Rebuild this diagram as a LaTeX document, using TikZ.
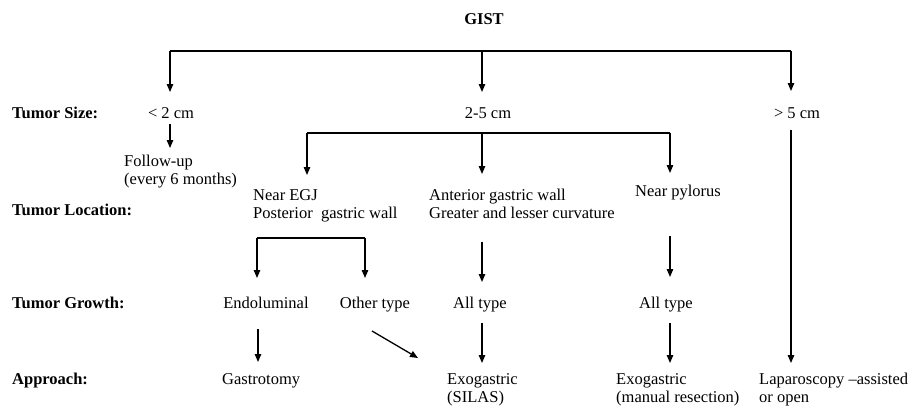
\documentclass[tikz,border=0pt]{standalone}
\usepackage{fontspec}
\setmainfont{Liberation Serif}
\usetikzlibrary{arrows.meta}
\newcommand\fs{\fontsize{16.5}{18}\selectfont}
\tikzset{
  lbl/.style={font=\fs\bfseries, anchor=base west, inner sep=0pt},
  txt/.style={font=\fs, anchor=base, inner sep=0pt},
  txtw/.style={font=\fs, anchor=base west, inner sep=0pt},
  ml/.style={font=\fs, align=left, anchor=north west, inner sep=0pt},
  ln/.style={line width=1.3pt},
  arr/.style={line width=1.3pt, -{Triangle[length=8pt,width=6.5pt]}}
}
\begin{document}
\begin{tikzpicture}[x=1pt,y=-1pt]
\useasboundingbox[fill=white] (0,0) rectangle (922,415);

% title
\node[txt,font=\fs\bfseries] (gist) at (484,24) {GIST};

% row labels
\node[lbl] (lsize) at (12,118) {Tumor Size:};
\node[lbl] (lloc) at (12,215) {Tumor Location:};
\node[lbl] (lgrow) at (12,308) {Tumor Growth:};
\node[lbl] (lapp) at (12,384) {Approach:};

% size
\node[txt] (s1) at (171,118) {< 2 cm};
\node[txt] (s2) at (488,118) {2-5 cm};
\node[txt] (s3) at (797,118) {> 5 cm};
\node[ml] (fu) at (124,155) {Follow-up\\(every 6 months)};

% location
\node[ml] (egj) at (253,189) {Near EGJ\\Posterior\ \ gastric wall};
\node[ml] (ant) at (429,189) {Anterior gastric wall\\Greater and lesser curvature};
\node[txtw] (pyl) at (635,196) {Near pylorus};

% growth
\node[txt] (endo) at (266,308) {Endoluminal};
\node[txt] (other) at (375,308) {Other type};
\node[txt] (all1) at (480,308) {All type};
\node[txt] (all2) at (666,308) {All type};

% approach
\node[txtw] (gastro) at (222,384) {Gastrotomy};
\node[ml] (silas) at (447,373) {Exogastric\\(SILAS)};
\node[ml] (manual) at (616,373) {Exogastric\\(manual resection)};
\node[ml] (lap) at (759,373) {Laparoscopy –assisted\\or open};

% junction coordinates
\coordinate (tl) at (170,51);
\coordinate (tm) at (482,51);
\coordinate (tr) at (791,51);
\coordinate (a1) at (170,92);
\coordinate (a2) at (482,92);
\coordinate (a3) at (791,91);

\coordinate (f0) at (170,124);
\coordinate (f1) at (170,148);

\coordinate (ml) at (307,133);
\coordinate (mm) at (482,133);
\coordinate (mr) at (670,133);
\coordinate (b1) at (307,175);
\coordinate (b2) at (482,174);
\coordinate (b3) at (670,173);

\coordinate (el) at (257,238);
\coordinate (er) at (365,238);
\coordinate (e1) at (257,278);
\coordinate (e2) at (365,278);

\coordinate (g0) at (482,242);
\coordinate (g1) at (482,282);
\coordinate (h0) at (670,236);
\coordinate (h1) at (670,277);

\coordinate (p0) at (258,329);
\coordinate (p1) at (258,362);
\coordinate (q0) at (372,331);
\coordinate (q1) at (418,358);
\coordinate (r0) at (482,323);
\coordinate (r1) at (482,363);
\coordinate (u0) at (670,323);
\coordinate (u1) at (670,363);
\coordinate (v0) at (791,130);
\coordinate (v1) at (791,363);

% top bracket
\draw[ln] (tl) -- (tr);
\draw[arr] (tl) -- (a1);
\draw[arr] (tm) -- (a2);
\draw[arr] (tr) -- (a3);

% follow-up
\draw[arr] (f0) -- (f1);

% location bracket
\draw[ln] (ml) -- (mr);
\draw[arr] (ml) -- (b1);
\draw[arr] (mm) -- (b2);
\draw[arr] (mr) -- (b3);

% growth bracket
\draw[ln] (el) -- (er);
\draw[arr] (el) -- (e1);
\draw[arr] (er) -- (e2);

\draw[arr] (g0) -- (g1);
\draw[arr] (h0) -- (h1);

% approach arrows
\draw[arr] (p0) -- (p1);
\draw[arr] (q0) -- (q1);
\draw[arr] (r0) -- (r1);
\draw[arr] (u0) -- (u1);
\draw[arr] (v0) -- (v1);
\end{tikzpicture}
\end{document}
